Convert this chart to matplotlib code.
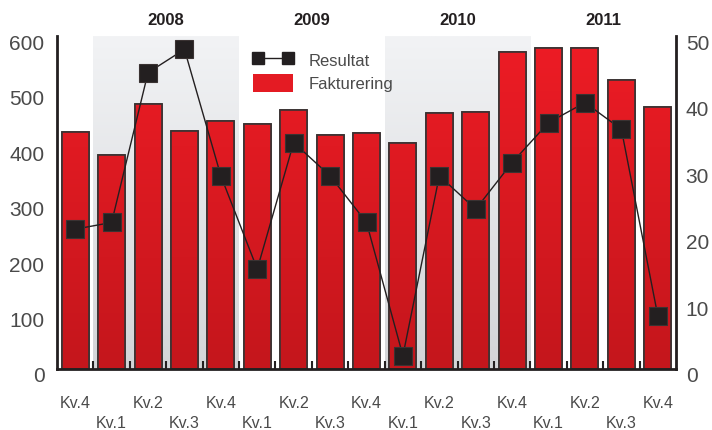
import numpy as np
import matplotlib
matplotlib.use('Agg')
import matplotlib.pyplot as plt
from matplotlib.lines import Line2D
from matplotlib.patches import Patch
import matplotlib.transforms as mtransforms
from matplotlib.colors import LinearSegmentedColormap

quarters = ['Kv.4', 'Kv.1', 'Kv.2', 'Kv.3', 'Kv.4', 'Kv.1', 'Kv.2', 'Kv.3', 'Kv.4',
            'Kv.1', 'Kv.2', 'Kv.3', 'Kv.4', 'Kv.1', 'Kv.2', 'Kv.3', 'Kv.4']
years = ['2008', '2009', '2010', '2011']
shaded_years = ['2008', '2010']
fakturering = [427, 386, 477, 429, 446, 441, 466, 422, 426, 407, 461, 463, 571, 579, 579, 520, 472]
resultat = [21, 22, 44.5, 48, 29, 15, 34, 29, 22, 2, 29, 24, 31, 37, 40, 36, 8]

plt.rcParams['font.family'] = ['Liberation Sans', 'DejaVu Sans']
txt = '#4a4a4a'
dark = '#231f20'

fig = plt.figure(figsize=(7.12, 4.30), dpi=100)
ax = fig.add_axes([57/712, 61/430, 619/712, 333/430])
ax2 = ax.twinx()

x = np.arange(len(fakturering))
ax.set_xlim(-0.5, len(x) - 0.5)
ax.set_ylim(0, 600)
ax2.set_ylim(0, 50)

# shaded year bands
gray_cmap = LinearSegmentedColormap.from_list('g', ['#d3d5d8', '#f2f3f5'])
grad = np.linspace(0, 1, 256).reshape(-1, 1)
for i, yr in enumerate(years):
    if yr in shaded_years:
        x0 = 0.5 + 4 * i
        ax.imshow(grad, cmap=gray_cmap, origin='lower', aspect='auto',
                  extent=(x0, x0 + 4, 0, 600), zorder=0)
    ax.text(2.5 + 4 * i, 1.048, yr, transform=ax.get_xaxis_transform(),
            ha='center', va='center', fontsize=12, fontweight='bold', color=dark)

# bars with gradient
red_cmap = LinearSegmentedColormap.from_list('r', ['#c4161c', '#ee1c25'])
bars = ax.bar(x, fakturering, width=0.74, color='#e01b22', edgecolor='#3a3232',
              linewidth=1.2, zorder=2)
for b in bars:
    im = ax.imshow(grad, cmap=red_cmap, origin='lower', aspect='auto',
                   extent=(b.get_x(), b.get_x() + b.get_width(), 0, 600), zorder=2.1)
    im.set_clip_path(b)
    b2 = plt.Rectangle((b.get_x(), 0), b.get_width(), b.get_height(), fill=False,
                       edgecolor='#3a3232', linewidth=1.2, zorder=2.2)
    ax.add_patch(b2)
ax.set_xlim(-0.5, len(x) - 0.5)
ax.set_ylim(0, 600)

# line
ax2.plot(x, resultat, color=dark, linewidth=1.0, marker='s', markersize=12.5,
         markerfacecolor=dark, markeredgecolor='#3a3232', markeredgewidth=0.8, zorder=5)

# spines
for a in (ax, ax2):
    a.spines['top'].set_visible(False)
ax.spines['left'].set_linewidth(2)
ax.spines['left'].set_color(dark)
ax.spines['bottom'].set_linewidth(2)
ax.spines['bottom'].set_color(dark)
ax2.spines['right'].set_linewidth(2)
ax2.spines['right'].set_color(dark)
ax2.spines['left'].set_visible(False)
ax2.spines['bottom'].set_visible(False)

# ticks
ax.set_yticks(np.arange(0, 601, 100))
ax2.set_yticks(np.arange(0, 51, 10))
ax.tick_params(axis='y', length=0, pad=9, labelsize=15, labelcolor=txt)
ax2.tick_params(axis='y', length=0, pad=7, labelsize=15, labelcolor=txt)
for a in (ax, ax2):
    for lab in a.get_yticklabels():
        lab.set_transform(lab.get_transform() + mtransforms.ScaledTranslation(0, -0.06, fig.dpi_scale_trans))

ax.set_xticks(x)
ax.set_xticklabels(quarters)
ax.tick_params(axis='x', which='major', length=0, pad=19.5, labelsize=11.5, labelcolor=txt)
for i, lab in enumerate(ax.get_xticklabels()):
    if i % 2 == 1:
        lab.set_transform(lab.get_transform() + mtransforms.ScaledTranslation(0, -0.20, fig.dpi_scale_trans))
ax.set_xticks(np.arange(0.5, len(x) - 1, 1), minor=True)
ax.tick_params(axis='x', which='minor', direction='in', length=6, width=1.5, color=dark)

# legend
handles = [Line2D([0], [0], color=dark, linewidth=1.0, marker='s', markersize=8,
                  markerfacecolor=dark, markeredgecolor=dark),
           Patch(facecolor='#e41b23', edgecolor='none')]
leg = ax.legend(handles, ['Resultat', 'Fakturering'], loc='upper left',
                bbox_to_anchor=(0.293, 1.0), frameon=False, numpoints=2,
                handlelength=2.4, handleheight=1.3, handletextpad=0.9,
                labelspacing=0.3, fontsize=12)
for t in leg.get_texts():
    t.set_color(txt)
leg.set_zorder(10)

fig.savefig('out.png', dpi=100)
